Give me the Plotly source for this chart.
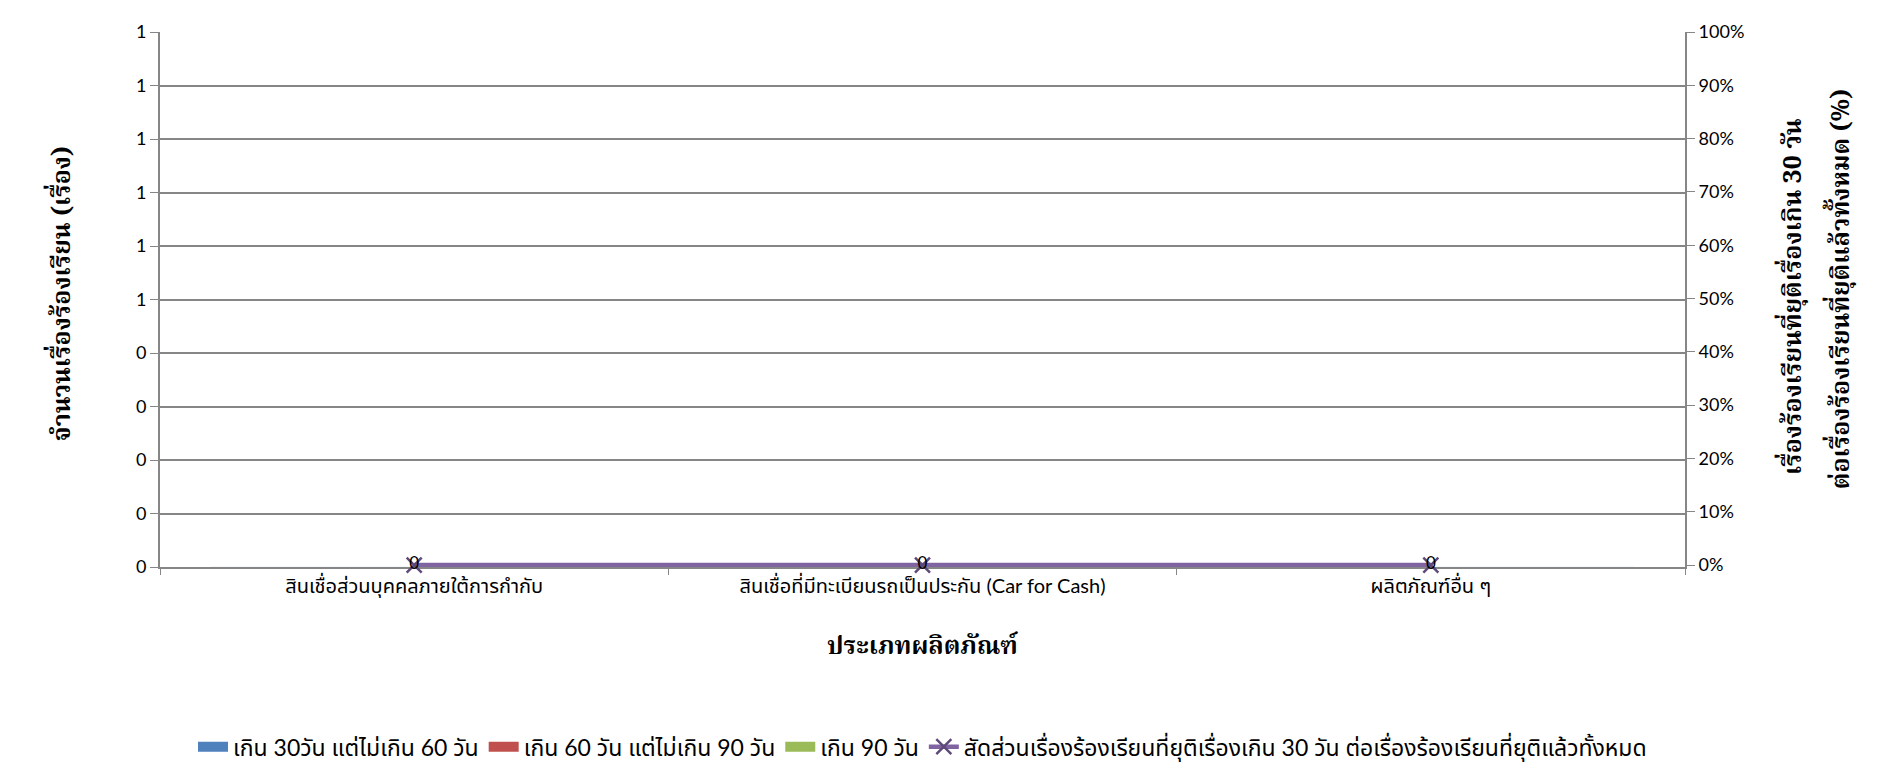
import plotly.graph_objects as go

categories = ["สินเชื่อส่วนบุคคลภายใต้การกำกับ",
              "สินเชื่อที่มีทะเบียนรถเป็นประกัน (Car for Cash)",
              "ผลิตภัณฑ์อื่น ๆ"]
s_30_60 = [0, 0, 0]
s_60_90 = [0, 0, 0]
s_90 = [0, 0, 0]
ratio = [0, 0, 0]
ratio_labels = ["0", "0", "0"]

left_tickvals = [0, 0.1, 0.2, 0.3, 0.4, 0.5, 0.6, 0.7, 0.8, 0.9, 1.0]
left_ticktext = ["0", "0", "0", "0", "0", "1", "1", "1", "1", "1", "1"]
right_tickvals = [0, 0.1, 0.2, 0.3, 0.4, 0.5, 0.6, 0.7, 0.8, 0.9, 1.0]
right_ticktext = ["0%", "10%", "20%", "30%", "40%", "50%", "60%", "70%", "80%", "90%", "100%"]

names = ["เกิน 30วัน แต่ไม่เกิน 60 วัน", "เกิน 60 วัน แต่ไม่เกิน 90 วัน", "เกิน 90 วัน",
         "สัดส่วนเรื่องร้องเรียนที่ยุติเรื่องเกิน 30 วัน ต่อเรื่องร้องเรียนที่ยุติแล้วทั้งหมด"]
colors = ["#4F81BD", "#C0504D", "#9BBB59"]

FONT = "Lato, Noto Sans Thai, Liberation Sans, sans-serif"
TFONT = "Noto Serif Thai, Noto Sans Thai, Liberation Serif, serif"
GRID = "#868686"

fig = go.Figure()
for vals, nm, col in zip([s_30_60, s_60_90, s_90], names[:3], colors):
    fig.add_trace(go.Bar(x=categories, y=vals, name=nm, marker_color=col,
                         showlegend=False, legendgroup=nm))
# legend swatches (wide rectangles like the original)
for nm, col in zip(names[:3], colors):
    fig.add_trace(go.Scatter(x=[categories[0]], y=[None], name=nm, mode="lines",
                             line=dict(color=col, width=13), legendgroup=nm,
                             hoverinfo="skip"))
fig.add_trace(go.Scatter(x=categories, y=ratio, name=names[3], yaxis="y2",
                         mode="lines+markers+text", text=ratio_labels,
                         textposition="middle center", cliponaxis=False,
                         textfont=dict(size=17, color="#000000", family=FONT),
                         line=dict(color="#8064A2", width=4.5),
                         marker=dict(symbol="x-thin", size=15,
                                     line=dict(color="#5F497A", width=2.5),
                                     color="#5F497A")))

fig.update_layout(
    width=1892, height=772,
    paper_bgcolor="white", plot_bgcolor="white",
    margin=dict(l=152, r=215, t=19, b=203),
    font=dict(family=FONT, size=18, color="#000000"),
    barmode="group",
    showlegend=True,
    legend=dict(orientation="h", x=0.5, xanchor="center", y=-0.336, yanchor="middle",
                font=dict(size=23), itemwidth=30, tracegroupgap=0),
    xaxis=dict(showline=True, linecolor=GRID, linewidth=2, ticks="outside",
               tickson="boundaries", ticklen=6, tickcolor=GRID, showgrid=False,
               tickfont=dict(size=20), layer="below traces"),
    yaxis=dict(range=[0, 1], tickvals=left_tickvals, ticktext=left_ticktext,
               showline=True, linecolor=GRID, linewidth=2, ticks="outside",
               ticklen=8, tickcolor=GRID, gridcolor=GRID, gridwidth=2,
               zeroline=False, tickfont=dict(size=18), layer="below traces"),
    yaxis2=dict(range=[-0.0036, 1], tickvals=right_tickvals, ticktext=right_ticktext,
                overlaying="y", side="right", showline=True, linecolor=GRID,
                linewidth=2, ticks="outside", ticklen=8, tickcolor=GRID,
                showgrid=False, zeroline=False, tickfont=dict(size=18)),
)

fig.add_annotation(text="<b>ประเภทผลิตภัณฑ์</b>", xref="paper", yref="paper",
                   x=0.5, y=-0.191, showarrow=False, font=dict(size=25, family=TFONT))
fig.add_annotation(text="<b>จำนวนเรื่องร้องเรียน (เรื่อง)</b>", xref="paper", yref="paper",
                   x=-0.078, y=0.51, textangle=-90, showarrow=False,
                   font=dict(size=25, family=TFONT))
fig.add_annotation(text="<b>เรื่องร้องเรียนที่ยุติเรื่องเกิน 30 วัน</b>",
                   xref="paper", yref="paper", x=1.086, y=0.505, textangle=-90,
                   showarrow=False, font=dict(size=25, family=TFONT))
fig.add_annotation(text="<b>ต่อเรื่องร้องเรียนที่ยุติแล้วทั้งหมด (%)</b>",
                   xref="paper", yref="paper", x=1.117, y=0.52, textangle=-90,
                   showarrow=False, font=dict(size=25, family=TFONT))

fig.write_html("out.html")
